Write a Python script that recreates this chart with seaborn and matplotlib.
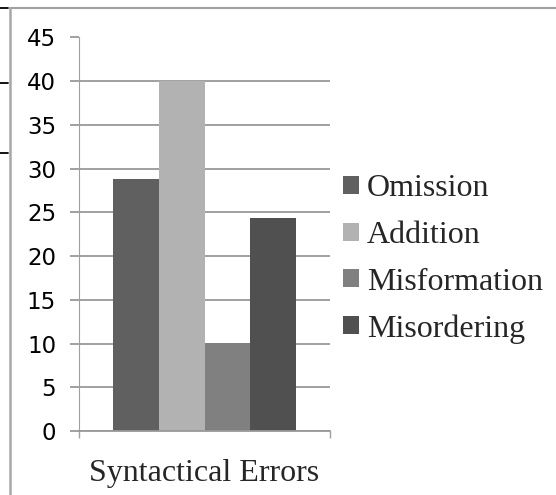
import pandas as pd
import matplotlib
matplotlib.use('Agg')
import matplotlib.pyplot as plt
import seaborn as sns
from matplotlib.lines import Line2D

# chart values
category = ['Syntactical Errors']
error_types = ['Omission', 'Addition', 'Misformation', 'Misordering']
values = [28.8, 40.0, 10.1, 24.4]
colors = ['#606060', '#b2b2b2', '#808080', '#505050']
y_ticks = [0, 5, 10, 15, 20, 25, 30, 35, 40, 45]

df = pd.DataFrame({'category': category * len(error_types),
                   'type': error_types,
                   'value': values})

sns.set_style('white')
plt.rcParams['font.family'] = ['DejaVu Sans']

fig = plt.figure(figsize=(5.56, 4.95), dpi=100)
ax = fig.add_axes([79 / 556, 1 - 431 / 495, (330 - 79) / 556, (431 - 37.5) / 495])

sns.barplot(data=df, x='category', y='value', hue='type', hue_order=error_types,
            palette=colors, width=0.73, saturation=1, linewidth=0, ax=ax, legend=True)

ax.set_ylim(0, 45)
ax.set_xlim(-0.5, 0.5)
ax.set_yticks(y_ticks)
ax.yaxis.grid(True, color='#999999', linewidth=1.3)
ax.set_axisbelow(True)
ax.set_xlabel('')
ax.set_ylabel('')

for side in ['top', 'right']:
    ax.spines[side].set_visible(False)
ax.spines['left'].set_color('#a0a0a0')
ax.spines['bottom'].set_color('#999999')
ax.spines['bottom'].set_linewidth(1.3)

ax.tick_params(axis='y', length=6.5, width=1.3, color='#999999', pad=10,
               labelsize=16.5, labelcolor='black', left=True)
ax.tick_params(axis='x', length=0, pad=20)
ax.set_xticks([-0.5, 0.5], minor=True)
ax.tick_params(axis='x', which='minor', length=5, width=1, color='#a0a0a0', bottom=True)
for lbl in ax.get_xticklabels():
    lbl.set_fontfamily('Liberation Serif')
    lbl.set_fontsize(23)

ax.legend(loc='center left', bbox_to_anchor=(343 / 556, 1 - 259 / 495),
          bbox_transform=fig.transFigure, frameon=False, borderpad=0,
          borderaxespad=0, handlelength=0.5, handleheight=0.5,
          handletextpad=0.25, labelspacing=0.55,
          prop={'family': 'Liberation Serif', 'size': 23})

# page frame lines around the chart
fig.add_artist(Line2D([10 / 556, 1], [1 - 7.5 / 495] * 2, color='#a0a0a0', lw=1.5,
                      transform=fig.transFigure))
fig.add_artist(Line2D([10 / 556] * 2, [0, 1 - 7.5 / 495], color='#a8a8a8', lw=1.8,
                      transform=fig.transFigure))
for yy in [8, 83, 153]:
    fig.add_artist(Line2D([0, 8 / 556], [1 - yy / 495] * 2, color='black', lw=1.3,
                          transform=fig.transFigure))

fig.savefig('out.png', dpi=100)
